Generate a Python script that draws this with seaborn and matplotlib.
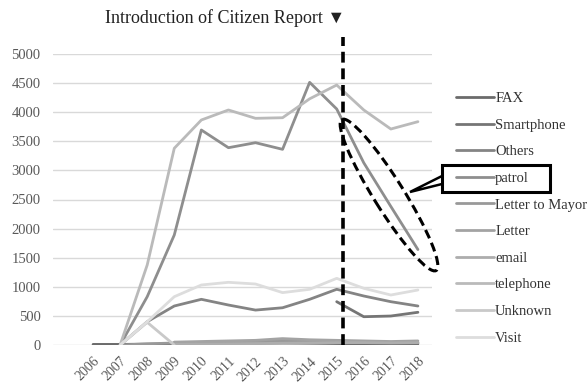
import numpy as np
import pandas as pd
import matplotlib
matplotlib.use("Agg")
import matplotlib.pyplot as plt
import seaborn as sns
from matplotlib.patches import Ellipse, Rectangle, Polygon
from matplotlib.transforms import IdentityTransform

years = list(range(2006, 2019))
series_names = ["FAX", "Smartphone", "Others", "patrol", "Letter to Mayor",
                "Letter", "email", "telephone", "Unknown", "Visit"]
nan = np.nan
fax =        [10, 10, 15, 20, 25, 30, 30, 35, 30, 25, 20, 20, 20]
smartphone = [nan, nan, nan, nan, nan, nan, nan, nan, nan, 744, 486, 498, 562]
others =     [nan, 0, 400, 670, 785, 687, 600, 640, 785, 957, 842, 744, 670]
patrol =     [nan, 0, 830, 1890, 3694, 3390, 3476, 3362, 4513, 4055, 3130, 2380, 1640]
letter_mayor = [nan, 0, 20, 35, 45, 55, 60, 70, 65, 55, 45, 40, 40]
letter =     [nan, nan, nan, 50, 60, 70, 80, 110, 90, 80, 70, 60, 70]
email =      [nan, nan, nan, 10, 15, 20, 25, 30, 35, 40, 40, 35, 40]
telephone =  [nan, 0, 1375, 3380, 3866, 4038, 3895, 3905, 4230, 4467, 4038, 3711, 3837]
unknown =    [nan, 0, 390, 0, nan, nan, nan, nan, nan, nan, nan, nan, nan]
visit =      [nan, 0, 400, 830, 1031, 1077, 1048, 900, 957, 1145, 974, 859, 945]
values = [fax, smartphone, others, patrol, letter_mayor, letter, email,
          telephone, unknown, visit]

colors = ["#6b6b6b", "#757575", "#848484", "#8e8e8e", "#999999",
          "#a3a3a3", "#adadad", "#bababa", "#c9c9c9", "#dddddd"]

rows = []
for name, vals in zip(series_names, values):
    for y, v in zip(years, vals):
        if not np.isnan(v):
            rows.append({"year": y, "count": v, "series": name})
df = pd.DataFrame(rows)

sns.set_theme(style="white")
plt.rcParams["font.family"] = ["Liberation Serif", "DejaVu Sans"]

fig = plt.figure(figsize=(5.87, 3.85), dpi=100)
ax = fig.add_axes([53 / 587, 40 / 385, (432 - 53) / 587, (345 - 54) / 385])

sns.lineplot(data=df, x="year", y="count", hue="series", hue_order=series_names,
             palette=dict(zip(series_names, colors)), linewidth=2.0, ax=ax,
             estimator=None, legend=True)

ax.set_xlim(2004.52, 2018.52)
ax.set_ylim(0, 5000)
ax.set_yticks(np.arange(0, 5001, 500))
ax.set_xticks(years)
ax.set_xticklabels([str(y) for y in years], rotation=45, ha="right",
                   rotation_mode="anchor", fontsize=10, color="#595959")
ax.tick_params(axis="x", pad=7, length=0)
ax.tick_params(axis="y", labelsize=10.5, labelcolor="#595959", pad=9, length=0)
ax.set_xlabel("")
ax.set_ylabel("")
ax.grid(axis="y", color="#d9d9d9", linewidth=1)
ax.set_axisbelow(True)
for s in ax.spines.values():
    s.set_visible(False)

# Vertical dashed line marking introduction
ax.plot([2015.22, 2015.22], [0, 5290], color="black", linewidth=2.6,
        linestyle=(0, (3, 1.6)), clip_on=False, zorder=5)

fig.text(225 / 587, 1 - 18 / 385, "Introduction of Citizen Report \u25BC",
         ha="center", va="center", fontsize=13, color="#222222")

# Legend
handles, labels = ax.get_legend_handles_labels()
ax.legend_.remove()
leg = fig.legend(handles, labels, loc="upper left",
                 bbox_to_anchor=(450 / 587, 1 - 86 / 385), frameon=False,
                 fontsize=10.5, handlelength=2.6, handletextpad=0.1,
                 labelspacing=0.92, borderaxespad=0)
for t in leg.get_texts():
    t.set_color("#333333")

# Dashed ellipse and callout
ell = Ellipse((389, 385 - 195), 178, 30, angle=-58, fill=False,
              edgecolor="black", linewidth=2.2, linestyle=(0, (3, 1.6)),
              transform=IdentityTransform(), zorder=6)
fig.add_artist(ell)
box = Rectangle((442, 385 - 192), 108, 27, fill=False, edgecolor="black",
                linewidth=2.2, transform=IdentityTransform(), zorder=6)
fig.add_artist(box)
wedge = Polygon([(442, 385 - 176), (410, 385 - 192), (442, 385 - 184)],
                closed=False, fill=False, edgecolor="black", linewidth=1.8,
                transform=IdentityTransform(), zorder=6)
fig.add_artist(wedge)

fig.savefig("out.png", dpi=100)
